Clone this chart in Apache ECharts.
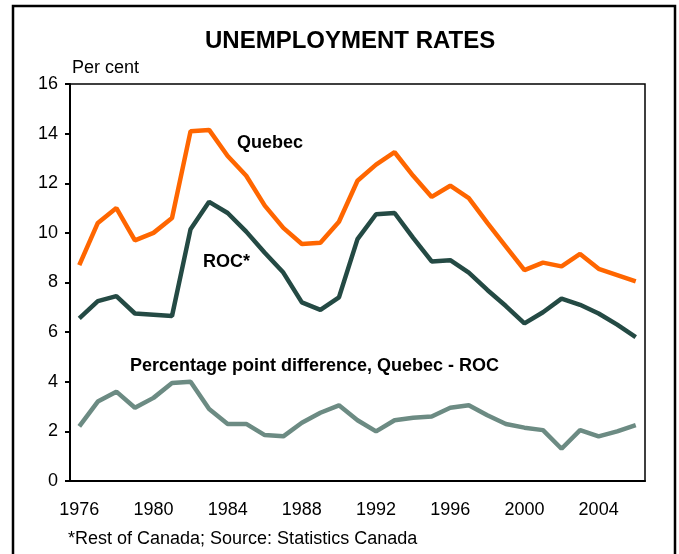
<!DOCTYPE html>
<html>
<head>
<meta charset="utf-8">
<style>
  html, body { margin: 0; padding: 0; background: #fff; }
  #chart { width: 679px; height: 554px; }
</style>
<script src="https://cdn.jsdelivr.net/npm/echarts@6/dist/echarts.min.js"></script>
</head>
<body>
<div id="chart"></div>
<script>
  // Years 1976 - 2006
  const years = [];
  for (let y = 1976; y <= 2006; y++) years.push(String(y));

  const quebec = [8.7, 10.4, 11.0, 9.7, 10.0, 10.6, 14.1, 14.15, 13.1, 12.3, 11.1, 10.2, 9.55, 9.6, 10.45,
    12.1, 12.75, 13.25, 12.3, 11.45, 11.9, 11.4, 10.4, 9.45, 8.5, 8.8, 8.65, 9.15, 8.55, 8.3, 8.05];
  const roc = [6.55, 7.25, 7.45, 6.75, 6.7, 6.65, 10.15, 11.25, 10.8, 10.05, 9.2, 8.4, 7.2, 6.9, 7.4,
    9.75, 10.75, 10.8, 9.8, 8.85, 8.9, 8.4, 7.7, 7.05, 6.35, 6.8, 7.35, 7.1, 6.75, 6.3, 5.8];
  const diff = [2.2, 3.2, 3.6, 2.95, 3.35, 3.95, 4.0, 2.9, 2.3, 2.3, 1.85, 1.8, 2.35, 2.75, 3.05,
    2.45, 2.0, 2.45, 2.55, 2.6, 2.95, 3.05, 2.65, 2.3, 2.15, 2.05, 1.3, 2.05, 1.8, 2.0, 2.25];

  const font = 'Arial, "Liberation Sans", sans-serif';

  const chart = echarts.init(document.getElementById('chart'));
  chart.setOption({
    animation: false,
    title: {
      text: 'UNEMPLOYMENT RATES',
      left: 200,
      top: 24,
      textStyle: { fontFamily: font, fontSize: 24, fontWeight: 'bold', color: '#000' }
    },
    grid: {
      left: 70,
      right: 34,
      top: 84,
      bottom: 73,
      show: true,
      borderColor: '#000',
      borderWidth: 1.5
    },
    xAxis: {
      type: 'category',
      data: years,
      boundaryGap: true,
      axisLine: { lineStyle: { color: '#000', width: 2 } },
      axisTick: { interval: 0, length: 5, lineStyle: { color: '#000', width: 2 } },
      axisLabel: { interval: 3, margin: 20, color: '#000', fontFamily: font, fontSize: 18 },
      splitLine: { show: false }
    },
    yAxis: {
      type: 'value',
      min: 0,
      max: 16,
      interval: 2,
      name: 'Per cent',
      nameLocation: 'end',
      nameGap: 7,
      nameTextStyle: { align: 'left', color: '#000', fontFamily: font, fontSize: 18, padding: [0, 0, 0, 2] },
      axisLine: { show: true, lineStyle: { color: '#000', width: 2 } },
      axisTick: { show: true, length: 5, lineStyle: { color: '#000', width: 2 } },
      axisLabel: { margin: 12, color: '#000', fontFamily: font, fontSize: 18 },
      splitLine: { show: false }
    },
    series: [
      { name: 'Quebec', type: 'line', data: quebec, showSymbol: false,
        lineStyle: { color: '#FF6600', width: 4.5 } },
      { name: 'ROC*', type: 'line', data: roc, showSymbol: false,
        lineStyle: { color: '#244A44', width: 4.5 } },
      { name: 'Difference', type: 'line', data: diff, showSymbol: false,
        lineStyle: { color: '#6C8B83', width: 4.5 } }
    ],
    graphic: [
      { type: 'rect', shape: { x: 13, y: 6, width: 662, height: 560 }, silent: true,
        style: { fill: 'none', stroke: '#000', lineWidth: 2.5 } },
      { type: 'text', left: 237, top: 134,
        style: { text: 'Quebec', fill: '#000', font: 'bold 18px ' + font } },
      { type: 'text', left: 203, top: 253,
        style: { text: 'ROC*', fill: '#000', font: 'bold 18px ' + font } },
      { type: 'text', left: 130, top: 357,
        style: { text: 'Percentage point difference, Quebec - ROC', fill: '#000', font: 'bold 18px ' + font } },
      { type: 'text', left: 68, top: 530,
        style: { text: '*Rest of Canada; Source: Statistics Canada', fill: '#000', font: '18px ' + font } }
    ]
  });
</script>
</body>
</html>
